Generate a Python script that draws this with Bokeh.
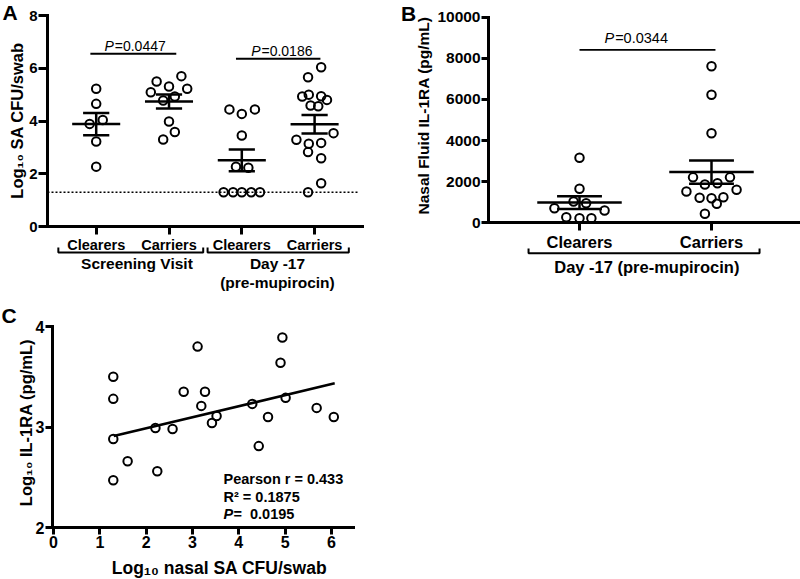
import numpy as np
from bokeh.plotting import figure
from bokeh.models import Range1d, FixedTicker
from bokeh.layouts import column, row
from bokeh.embed import file_html
from bokeh.resources import INLINE
from bokeh.core.properties import value

FONT = "Liberation Sans"

# ---------------- data ----------------
a_tick_labels = ["Clearers", "Carriers", "Clearers", "Carriers"]
a_group_labels = ["Screening Visit", "Day -17", "(pre-mupirocin)"]
a_scr_clr = [5.22, 4.65, 4.04, 3.89, 3.22, 2.27]
a_scr_car = [5.70, 5.50, 5.31, 5.22, 5.09, 4.93, 4.78, 3.98, 3.58, 3.30]
a_d17_clr = [4.44, 4.27, 4.44, 3.45, 2.27, 2.23, 1.3, 1.3, 1.3, 1.3, 1.3]
a_d17_car = [6.04, 5.66, 4.93, 5.00, 4.94, 4.80, 4.59, 4.56, 3.54, 3.29, 3.14, 3.17, 2.82, 2.59, 1.64, 1.3]
a_lod = 1.3
a_pvals = ["0.0447", "0.0186"]

b_tick_labels = ["Clearers", "Carriers"]
b_group_label = "Day -17 (pre-mupirocin)"
b_clr = [3161, 1654, 1036, 953, 710, 598, 272, 224, 224]
b_car = [7617, 6226, 4358, 2210, 2210, 1863, 1926, 1522, 1605, 1216, 1197, 1245, 924, 438]
b_pval = "0.0344"

c_x = [1.29, 1.29, 1.29, 1.29, 1.60, 2.20, 2.24, 2.57, 2.81, 3.11, 3.27,
       3.19, 3.52, 3.42, 4.29, 4.43, 4.63, 4.94, 4.90, 5.01, 5.68, 6.05]
c_y = [3.50, 3.28, 2.88, 2.47, 2.66, 2.99, 2.56, 2.98, 3.35, 3.80, 3.35,
       3.21, 3.11, 3.04, 3.23, 2.81, 3.10, 3.89, 3.64, 3.29, 3.19, 3.10]
c_fit_x = [1.30, 6.07]
c_fit_y = [2.91, 3.435]
c_stats = ["Pearson r = 0.433", "R\u00b2 = 0.1875", "0.0195"]

# horizontal scatter offsets of the points (layout, not values)
a_scr_clr_dx = [0, 0, 0.09, -0.09, 0, 0]
a_scr_car_dx = [0.17, -0.17, 0, 0.25, -0.25, 0.08, -0.08, 0, 0.08, -0.08]
a_d17_clr_dx = [-0.17, 0, 0.18, 0, -0.08, 0.09, -0.25, -0.12, 0, 0.13, 0.25]
a_d17_car_dx = [0.09, -0.09, -0.17, -0.08, 0.09, 0.17, -0.055, 0.05, 0.26, -0.25,
                -0.08, 0.09, -0.09, 0.09, 0.09, -0.09]
b_clr_dx = [0, 0, -0.045, 0.05, -0.19, 0.19, -0.1, 0, 0.09]
b_car_dx = [0, 0, 0, -0.14, 0.14, -0.05, 0.045, -0.19, 0.19, -0.09, 0, 0.09, 0.04, -0.05]


def make_fig(w, h, xr, yr):
    p = figure(width=w, height=h, x_range=Range1d(*xr), y_range=Range1d(*yr),
               output_backend="svg", toolbar_location=None,
               min_border_left=0, min_border_right=0, min_border_top=0, min_border_bottom=0)
    p.outline_line_color = None
    p.xgrid.visible = False
    p.ygrid.visible = False
    p.background_fill_color = "white"
    p.border_fill_color = "white"
    return p


def style_axis(ax, ticks, size, out, standoff, bounds, loc, overrides=None):
    ax.fixed_location = loc
    ax.bounds = bounds
    ax.ticker = FixedTicker(ticks=ticks, minor_ticks=[])
    ax.axis_line_width = 3
    ax.axis_line_color = "black"
    ax.axis_line_cap = "square"
    ax.major_tick_line_width = 3
    ax.major_tick_line_color = "black"
    ax.major_tick_out = out
    ax.major_tick_in = 0
    ax.minor_tick_line_color = None
    ax.major_label_text_font = FONT
    ax.major_label_text_font_style = "bold"
    ax.major_label_text_font_size = size
    ax.major_label_text_color = "black"
    ax.major_label_standoff = standoff
    if overrides:
        ax.major_label_overrides = overrides


def txt(p, x, y, s, size, style="bold", align="center", baseline="middle", angle=0.0):
    p.text(x=[x], y=[y], text=[s], text_font=value(FONT), text_font_style=style,
           text_font_size=size, text_align=align, text_baseline=baseline,
           angle=angle, text_color="black")


def groups_plot(p, centers, groups, offsets, hw_mean, hw_cap):
    for c, vals, dx in zip(centers, groups, offsets):
        v = np.asarray(vals, dtype=float)
        m = v.mean()
        sem = v.std(ddof=1) / np.sqrt(len(v))
        p.segment(x0=[c - hw_mean, c - hw_cap, c - hw_cap, c],
                  y0=[m, m + sem, m - sem, m - sem],
                  x1=[c + hw_mean, c + hw_cap, c + hw_cap, c],
                  y1=[m, m + sem, m - sem, m + sem],
                  line_color="black", line_width=2.5)
        p.scatter(x=[c + d for d in dx], y=list(v), size=8.5, marker="circle",
                  fill_color=None, line_color="black", line_width=2)


# ---------------- Panel A (page origin 0,0; 400x300) ----------------
ax_px, ax_c = 72.8, 95.7       # px per category, pixel of category 1
ay_px, ay_0 = 26.375, 226.0    # px per unit, pixel of y = 0
a_x0 = 1 - ax_c / ax_px
a_y1 = ay_0 / ay_px
pA = make_fig(400, 300, (a_x0, a_x0 + 400 / ax_px), (a_y1 - 300 / ay_px, a_y1))
a_yaxis_x = 1 + (47 - ax_c) / ax_px
style_axis(pA.yaxis[0], [0, 2, 4, 6, 8], "15px", 9, 1, (0, 8), a_yaxis_x)
style_axis(pA.xaxis[0], [1, 2, 3, 4], "14.5px", 8, 2, (a_yaxis_x, 4.66), 0,
           {i + 1: t for i, t in enumerate(a_tick_labels)})

pA.line(x=[a_yaxis_x, 4.6], y=[a_lod, a_lod], line_color="black", line_width=1.6, line_dash="2 2")
groups_plot(pA, [1, 2, 3, 4], [a_scr_clr, a_scr_car, a_d17_clr, a_d17_car],
            [a_scr_clr_dx, a_scr_car_dx, a_d17_clr_dx, a_d17_car_dx], 0.33, 0.18)

# significance bars
pA.segment(x0=[0.92, 2.92], y0=[6.55, 6.36], x1=[2.10, 4.08], y1=[6.55, 6.36],
           line_color="black", line_width=1.8)
txt(pA, 1.114, 6.83, "P", "14px", "italic", "left")
txt(pA, 1.255, 6.83, "=" + a_pvals[0], "14px", "normal", "left")
txt(pA, 3.129, 6.65, "P", "14px", "italic", "left")
txt(pA, 3.27, 6.65, "=" + a_pvals[1], "14px", "normal", "left")

# group brackets
pA.multi_line(xs=[[0.48, 0.48, 2.47, 2.47], [2.53, 2.53, 4.47, 4.47]],
              ys=[[-0.80, -0.99, -0.99, -0.80], [-0.80, -0.99, -0.99, -0.80]],
              line_color="black", line_width=2)
txt(pA, 1.56, -1.40, a_group_labels[0], "15.5px")
txt(pA, 3.49, -1.40, a_group_labels[1], "15.5px")
txt(pA, 3.49, -2.12, a_group_labels[2], "15.5px")

txt(pA, 1 + (16 - ax_c) / ax_px, 4.02, "Log\u2081\u2080 SA CFU/swab", "16.5px", angle=np.pi / 2)
txt(pA, a_x0 + 2 / ax_px, 8.10, "A", "21px", align="left")

# ---------------- Panel B (page origin 400,0; 400x300) ----------------
bx_px, bx_c = 132.0, 579.0
by_px, by_0 = 0.02056, 222.3
b_x0 = 1 - (bx_c - 400) / bx_px
b_y1 = by_0 / by_px
pB = make_fig(400, 300, (b_x0, b_x0 + 400 / bx_px), (b_y1 - 300 / by_px, b_y1))
b_yaxis_x = 1 + (488 - bx_c) / bx_px
style_axis(pB.yaxis[0], [0, 2000, 4000, 6000, 8000, 10000], "15.5px", 7, 1, (0, 10000), b_yaxis_x)
style_axis(pB.xaxis[0], [1, 2], "16.5px", 8, 2, (b_yaxis_x, b_x0 + 400 / bx_px), 0,
           {i + 1: t for i, t in enumerate(b_tick_labels)})

groups_plot(pB, [1, 2], [b_clr, b_car], [b_clr_dx, b_car_dx], 0.32, 0.17)

pB.segment(x0=[1.0], y0=[8414], x1=[2.03], y1=[8414], line_color="black", line_width=1.8)
txt(pB, 1.189, 8979, "P", "14.5px", "italic", "left")
txt(pB, 1.27, 8979, "=" + b_pval, "14.5px", "normal", "left")

pB.multi_line(xs=[[0.614, 0.614, 2.364, 2.364]], ys=[[-1250, -1479, -1479, -1250]],
              line_color="black", line_width=2)
txt(pB, 1.51, -2174, b_group_label, "16.5px")
txt(pB, 1 + (423 - bx_c) / bx_px, 5219, "Nasal Fluid IL-1RA (pg/mL)", "15.5px", angle=np.pi / 2)
txt(pB, b_x0 + 0.5 / bx_px, (by_0 - 12.5) / by_px, "B", "21px", align="left")

# ---------------- Panel C (page origin 0,300; 400x279) ----------------
cx_px, cx_0 = 46.33, 53.0
cy_px, cy_2 = 100.5, 527.0
c_x0 = -cx_0 / cx_px
c_y1 = 2 + (cy_2 - 300) / cy_px
pC = make_fig(400, 279, (c_x0, c_x0 + 400 / cx_px), (c_y1 - 279 / cy_px, c_y1))
c_yaxis_x = (52 - cx_0) / cx_px
style_axis(pC.yaxis[0], [2, 3, 4], "16px", 7, 1, (2, 4), c_yaxis_x)
style_axis(pC.xaxis[0], [0, 1, 2, 3, 4, 5, 6], "16px", 7, 1, (c_yaxis_x, 6.48), 2)

pC.line(x=c_fit_x, y=c_fit_y, line_color="black", line_width=2.6)
pC.scatter(x=c_x, y=c_y, size=8.5, marker="circle", fill_color=None,
           line_color="black", line_width=2)

txt(pC, 3.67, 2.478, c_stats[0], "14.5px", align="left")
txt(pC, 3.67, 2.30, c_stats[1], "14.5px", align="left")
txt(pC, 3.67, 2.13, "P", "14.5px", "bold italic", "left")
txt(pC, 3.885, 2.13, "=\u00a0\u00a0" + c_stats[2], "14.5px", align="left")

txt(pC, (25 - cx_0) / cx_px, 3.045, "Log\u2081\u2080 IL-1RA (pg/mL)", "16.5px", angle=np.pi / 2)
txt(pC, (219 - cx_0) / cx_px, 2 - (567 - cy_2) / cy_px, "Log\u2081\u2080 nasal SA CFU/swab", "17.5px")
txt(pC, c_x0 + 1 / cx_px, 4.114, "C", "21px", align="left")

layout = column(row(pA, pB), pC)
open("out.html", "w").write(file_html(layout, INLINE))
